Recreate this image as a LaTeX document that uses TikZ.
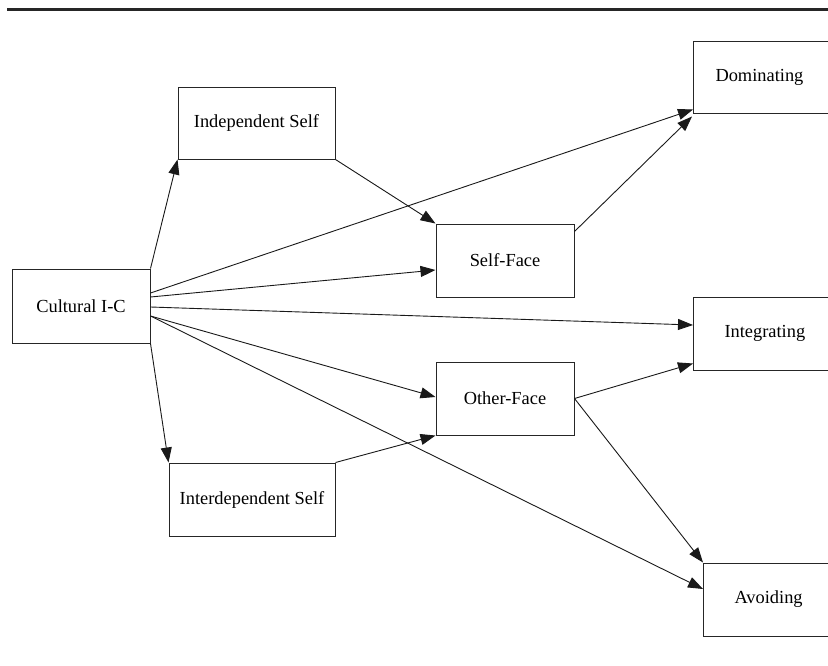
\documentclass[tikz,border=0pt]{standalone}
\usepackage{fontspec}
\setmainfont{Liberation Serif}
\usetikzlibrary{arrows.meta}
\begin{document}
\begin{tikzpicture}[x=1pt,y=-1pt,
  box/.style={draw=black!85, line width=1pt, fill=white, inner sep=0pt,
    font=\fontsize{18.4}{21}\selectfont},
  rbox/.style={box, anchor=west, minimum width=150pt, align=left},
  link/.style={draw=black!90, line width=0.9pt, -{Triangle[length=15pt,width=11pt]}}]
\useasboundingbox (0,0) rectangle (828,665);
\clip (0,0) rectangle (828,665);
\draw[line width=2.6pt, black!85] (7,9.5) -- (830,9.5);
% nodes
\node[box, minimum width=138pt, minimum height=74pt] (cult) at (81,306) {Cultural I-C};
\node[box, minimum width=157pt, minimum height=72pt] (ind) at (256.5,123) {Independent Self};
\node[box, minimum width=166pt, minimum height=73pt] (inter) at (252,499.5) {Interdependent Self};
\node[box, minimum width=138pt, minimum height=73pt] (sf) at (505,260.5) {Self-Face};
\node[box, minimum width=138pt, minimum height=73pt] (of) at (505,398.5) {Other-Face};
\node[rbox, minimum height=72pt, inner xsep=22pt, text width=106pt] (dom) at (693,77) {Dominating};
\node[rbox, minimum height=73pt, inner xsep=31pt, text width=88pt] (integ) at (693,333.5) {Integrating};
\node[rbox, minimum height=73pt, inner xsep=31pt, text width=88pt] (avoid) at (703,599.5) {Avoiding};
% connectors
\draw[link] (cult.north east) -- (ind.south west);
\draw[link] (cult.south east) -- (inter.north west);
\draw[link] ([yshift=13pt]cult.east) -- ([yshift=4pt]dom.south west);
\draw[link] ([yshift=9pt]cult.east) -- ([yshift=-9.5pt]sf.west);
\draw[link] ([yshift=-1pt]cult.east) -- ([yshift=8.5pt]integ.west);
\draw[link] ([yshift=-10pt]cult.east) -- ([yshift=1.5pt]of.west);
\draw[link] ([yshift=-10pt]cult.east) -- ([yshift=10.5pt]avoid.west);
\draw[link] (ind.south east) -- (sf.north west);
\draw[link] (inter.north east) -- (of.south west);
\draw[link] ([yshift=-8pt]sf.north east) -- ([shift={(-1pt,-3pt)}]dom.south west);
\draw[link] (of.east) -- ([yshift=7pt]integ.south west);
\draw[link] (of.east) -- (avoid.north west);
\end{tikzpicture}
\end{document}
